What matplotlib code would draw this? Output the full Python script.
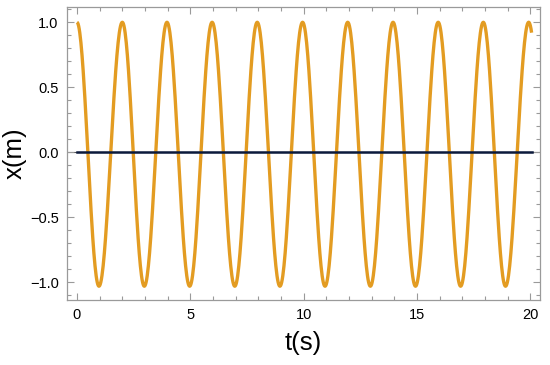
import numpy as np
import matplotlib.pyplot as plt
from matplotlib.ticker import MultipleLocator

plt.rcParams['font.family'] = ['Liberation Sans', 'DejaVu Sans']

# extrema of x(t) (peaks/troughs), plus end point
ext_t = [0.0, 0.97, 2.0, 2.97, 3.97, 4.97, 5.96, 6.96, 7.95, 8.95, 9.95,
         10.94, 11.94, 12.94, 13.94, 14.93, 15.93, 16.92, 17.92, 18.9, 19.92]
ext_x = [1.0, -1.03, 1.0, -1.03, 1.0, -1.03, 1.0, -1.03, 1.0, -1.03, 1.0,
         -1.03, 1.0, -1.03, 1.0, -1.03, 1.0, -1.03, 1.0, -1.03, 1.0]
t_end = 20.05
x_end = 0.93

zero_t = [0, 20.05]
zero_x = [0, 0]

orange = '#E39C22'
navy = '#0B1A3C'
grey = '#9a9a9a'

# build the curve as half-cosine arcs between consecutive extrema
ts = []
xs = []
for i in range(len(ext_t) - 1):
    s = np.linspace(0, 1, 40)
    a, b = ext_x[i], ext_x[i + 1]
    ts.extend(ext_t[i] + s * (ext_t[i + 1] - ext_t[i]))
    xs.extend((a + b) / 2 + (a - b) / 2 * np.cos(np.pi * s))
# last bit after final peak
half = ext_t[-1] - ext_t[-2]
s = np.linspace(0, (t_end - ext_t[-1]) / half, 10)
ts.extend(ext_t[-1] + s * half)
xs.extend((ext_x[-1] + ext_x[-2]) / 2 + (ext_x[-1] - ext_x[-2]) / 2 * np.cos(np.pi * s))

fig = plt.figure(figsize=(5.5, 3.65), dpi=100)
ax = fig.add_axes([0.1218, 0.178, 0.86, 0.802])

ax.axhline(0, color='#555555', linewidth=0.8, zorder=1)
ax.plot(ts, xs, color=orange, linewidth=2.4, solid_capstyle='butt', zorder=2)
ax.plot(zero_t, zero_x, color=navy, linewidth=1.8, zorder=3)

ax.set_xlim(-0.44, 20.42)
ax.set_ylim(-1.136, 1.115)

ax.xaxis.set_major_locator(MultipleLocator(5))
ax.xaxis.set_minor_locator(MultipleLocator(1))
ax.yaxis.set_major_locator(MultipleLocator(0.5))
ax.yaxis.set_minor_locator(MultipleLocator(0.1))
ax.yaxis.set_major_formatter(plt.FuncFormatter(lambda v, p: ('%.1f' % v).replace('-', '\u2212')))

ax.tick_params(which='both', direction='in', top=True, right=True, color=grey,
               labelsize=10.5, labelcolor='black', width=0.8)
ax.tick_params(which='major', length=5, pad=6)
ax.tick_params(which='minor', length=3)
for sp in ax.spines.values():
    sp.set_color(grey)
    sp.set_linewidth(0.9)

ax.set_xlabel('t(s)', fontsize=18.5, labelpad=6)
ax.set_ylabel('x(m)', fontsize=18.5, labelpad=2)

fig.savefig('out.png', dpi=100)
